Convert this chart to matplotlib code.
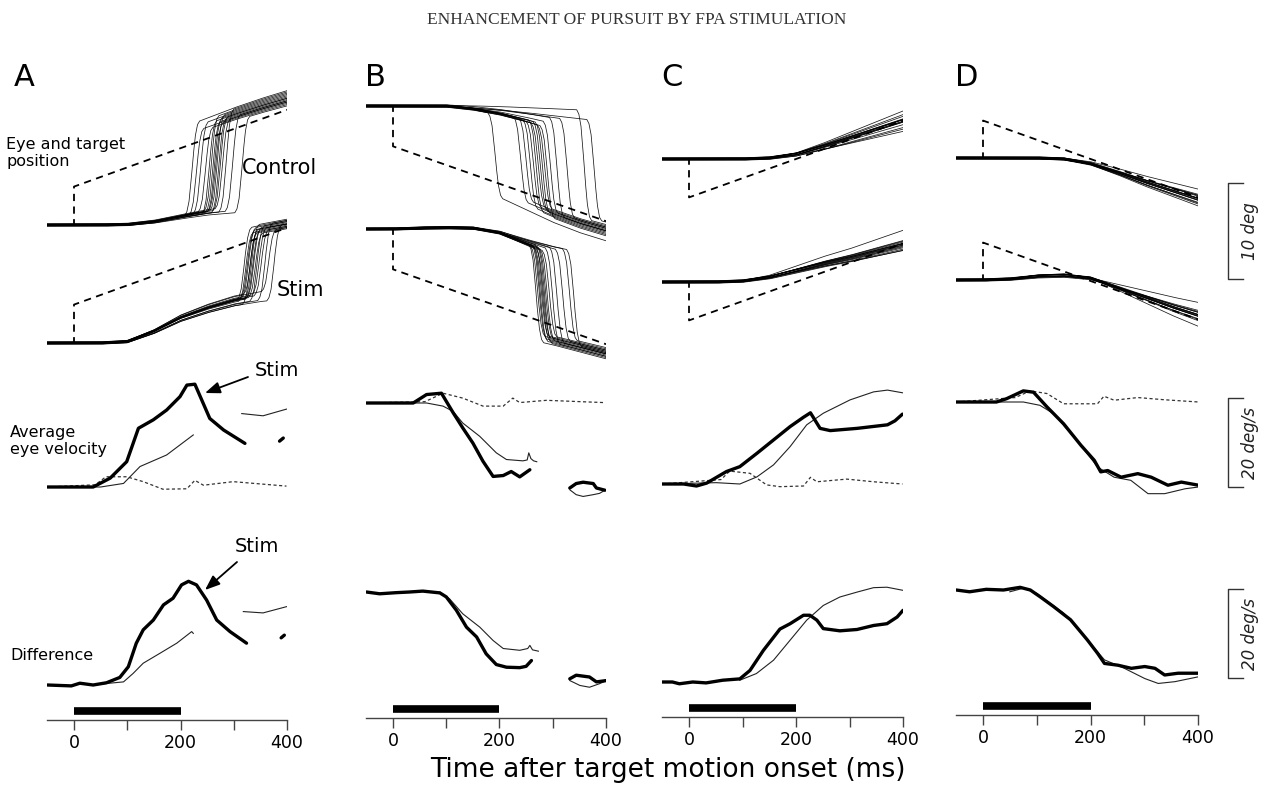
import matplotlib
matplotlib.use("Agg")
import matplotlib.pyplot as plt
import matplotlib.transforms as mtransforms
import numpy as np

plt.rcParams["font.family"] = ["DejaVu Sans"]

# ---------------------------------------------------------------------------
# Data. Times in ms, positions in deg, velocities in deg/s
# ---------------------------------------------------------------------------
panels = ["A", "B", "C", "D"]
tick_values = [0, 100, 200, 300, 400]
tick_labels = ["0", "", "200", "", "400"]
stim_window = [0, 200]

# target position (step-ramp)
target_t = [-50, 0, 0, 400]
target_A = [0, 0, 4.0, 12.0]
target_B = [0, 0, -4.2, -12.0]
target_C = [0, 0, -4.0, 4.0]
target_D = [0, 0, 3.9, -4.1]

# eye position: smooth part before / after the catch-up saccade
t_pos = [-50, 0, 50, 100, 150, 200, 250, 300, 350, 400]
t_post = [150, 200, 250, 300, 350, 400]
pre_A_ctrl = [0, 0, 0, 0.05, 0.35, 0.9, 1.4, 1.7, 1.9, 2.1]
post_A_ctrl = [8.6, 9.5, 10.5, 11.5, 12.4, 13.2]
pre_A_stim = [0, 0, 0, 0.15, 1.2, 2.6, 3.6, 4.4, 4.9, 5.2]
post_A_stim = [9.5, 10.2, 10.8, 11.3, 11.9, 12.4]
pre_B_ctrl = [0, 0, 0, 0, -0.3, -0.8, -1.5, -2.3, -3.1, -3.8]
post_B_ctrl = [-7.8, -8.8, -10.0, -11.2, -12.2, -13.0]
pre_B_stim = [0, 0, 0.1, 0.15, 0.1, -0.4, -1.5, -2.5, -3.3, -4.0]
post_B_stim = [-10.2, -10.6, -11.0, -11.6, -12.3, -13.0]
pre_C_ctrl = [0, 0, 0, 0, 0.1, 0.5, 1.3, 2.2, 3.1, 4.0]
pre_C_stim = [0, 0, 0, 0.1, 0.5, 1.2, 1.9, 2.5, 3.2, 3.9]
pre_D_ctrl = [0, 0, 0, 0, -0.1, -0.6, -1.5, -2.5, -3.4, -4.3]
pre_D_stim = [0, 0, 0.1, 0.4, 0.5, 0.2, -0.8, -1.8, -2.8, -3.7]

# saccade profile (fraction of the jump vs ms after onset)
sac_t = [0, 4, 8, 12, 16, 20, 24, 28]
sac_shape = [0, 0.04, 0.15, 0.38, 0.65, 0.86, 0.97, 1.0]

# individual trials
trial_offset = [0.0, 0.15, -0.12, 0.22, -0.2, 0.08, -0.05, 0.18,
                -0.15, 0.1, -0.25, 0.05, 0.25, -0.08, 0.12, -0.18]
onset_A_ctrl = [208, 216, 224, 233, 240, 244, 247, 250, 252, 255, 258, 261, 265, 272, 284, 302]
gain_A_ctrl = [1.0, 0.9, 1.1, 1.0, 0.95, 1.05, 1.0, 0.9, 1.1, 1.0, 0.95, 1.0, 1.05, 0.9, 0.85, 0.8]
pgain_A_ctrl = [1.06, 0.97, 1.02, 0.95, 1.0, 1.04, 0.98, 1.01, 0.96, 1.03, 0.99, 1.0, 0.97, 1.05, 0.98, 0.94]
onset_A_stim = [306, 309, 312, 314, 316, 318, 320, 322, 324, 327, 330, 334, 338, 345, 352, 362]
gain_A_stim = [1.0, 0.95, 1.05, 1.0, 0.9, 1.1, 1.0, 0.97, 1.03, 1.0, 0.95, 1.05, 1.0, 0.92, 1.08, 0.9]
pgain_A_stim = [1.03, 0.98, 1.0, 1.02, 0.97, 1.0, 1.04, 0.99, 1.01, 0.96, 1.02, 1.0, 0.98, 1.03, 0.97, 1.0]
onset_B_ctrl = [178, 226, 236, 244, 250, 255, 259, 263, 267, 271, 276, 282, 294, 313, 345, 364]
gain_B_ctrl = [1.2, 1.0, 0.9, 1.1, 1.0, 0.95, 1.05, 1.0, 0.9, 1.1, 1.0, 0.8, 0.6, 0.5, 0.15, 0.4]
pgain_B_ctrl = [1.08, 1.0, 0.97, 1.02, 0.99, 1.03, 0.98, 1.0, 1.01, 0.96, 1.04, 0.98, 1.0, 0.97, 0.95, 0.93]
onset_B_stim = [255, 258, 261, 263, 265, 267, 269, 271, 273, 276, 280, 286, 294, 305, 318, 326]
gain_B_stim = [1.0, 1.1, 0.95, 1.05, 1.0, 0.9, 1.1, 1.0, 0.95, 1.05, 1.0, 0.9, 0.85, 0.8, 0.75, 0.7]
pgain_B_stim = [1.04, 0.98, 1.0, 1.02, 0.97, 1.01, 0.99, 1.03, 0.98, 1.0, 0.96, 1.02, 1.0, 0.97, 0.95, 0.99]
gain_C_ctrl = [1.25, 0.7, 1.0, 0.95, 1.05, 1.1, 0.9, 1.0, 0.98, 1.02, 0.85, 1.15, 1.0, 0.97, 1.03, 0.8]
gain_C_stim = [1.38, 0.82, 1.0, 0.96, 1.04, 1.08, 0.92, 1.0, 0.98, 1.02, 0.88, 1.1, 1.0, 0.95, 1.05, 0.9]
gain_D_ctrl = [1.16, 0.77, 1.0, 0.95, 1.05, 1.1, 0.9, 1.0, 0.97, 1.03, 0.85, 1.12, 1.0, 0.96, 1.04, 0.88]
gain_D_stim = [1.3, 0.65, 1.0, 0.94, 1.06, 1.12, 0.9, 1.0, 0.97, 1.03, 0.82, 1.15, 1.0, 0.96, 1.04, 0.86]

# average eye velocity: stim (thick), control (thin), stim during fixation (dashed)
velA_stim_t = [-50, 0, 36, 68, 99, 121, 149, 174, 199, 212, 227, 255, 281, 321]
velA_stim = [0, 0, 0, 2.0, 5.7, 13.2, 15.1, 17.3, 20.3, 22.9, 23.1, 15.4, 12.8, 9.8]
velA_ctrl_t = [-50, 0, 50, 93, 124, 174, 224]
velA_ctrl = [0, 0, 0, 0.8, 4.6, 7.2, 11.7]
velA_dash_t = [-50, 40, 60, 99, 130, 167, 212, 227, 243, 299, 399]
velA_dash = [0, 0.5, 2.3, 2.3, 1.2, -0.5, -0.4, 1.5, 0.4, 1.2, 0.2]
velA_frag_t = [315, 355, 399]
velA_frag = [16.5, 16.0, 17.5]
velA_blob_t = [386, 393]
velA_blob = [10.3, 11.0]

velB_stim_t = [-50, 38, 63, 91, 113, 131, 150, 169, 188, 207, 222, 238, 257]
velB_stim = [0, 0, 1.9, 2.2, -2.2, -5.6, -9.0, -13.1, -16.5, -16.3, -15.4, -16.6, -15.0]
velB_ctrl_t = [-50, 63, 94, 113, 131, 163, 194, 213, 244, 252, 255, 259, 264, 270]
velB_ctrl = [0, 0, -0.7, -1.9, -4.5, -7.5, -11.2, -12.7, -13.0, -12.8, -11.2, -12.5, -13.0, -13.2]
velB_dash_t = [-50, 60, 94, 131, 169, 207, 225, 238, 288, 395]
velB_dash = [0, 0.3, 2.2, 1.1, -0.7, -0.7, 1.1, 0.1, 0.6, 0.1]
velB_blob_t = [332, 344, 357, 376, 382, 398]
velB_blob = [-19.1, -18.1, -17.8, -18.1, -19.1, -19.6]
velB_blob2_t = [332, 344, 357, 376, 388, 398]
velB_blob2 = [-19.5, -20.6, -21.0, -20.6, -20.3, -19.6]

velC_stim_t = [-50, -10, 14, 33, 70, 95, 127, 158, 189, 214, 227, 245, 264, 314, 371, 385, 399]
velC_stim = [0, 0, -0.45, 0.2, 2.8, 3.9, 6.9, 9.9, 12.9, 15.0, 16.0, 12.5, 12.0, 12.5, 13.3, 14.2, 15.7]
velC_ctrl_t = [-50, 51, 95, 127, 158, 189, 220, 251, 301, 345, 371, 399]
velC_ctrl = [0, 0.3, 0, 1.6, 4.3, 8.4, 13.3, 15.9, 18.9, 20.7, 21.1, 20.5]
velC_dash_t = [-50, 60, 76, 114, 145, 170, 214, 227, 239, 295, 345, 399]
velC_dash = [0, 1.0, 2.9, 2.4, -0.2, -0.6, -0.45, 1.5, 0.5, 1.1, 0.5, 0.0]

velD_stim_t = [-50, 25, 44, 75, 94, 119, 150, 182, 207, 219, 232, 257, 288, 313, 344, 369, 401]
velD_stim = [0, 0, 0.75, 2.5, 2.2, -1.1, -4.9, -9.7, -13.1, -15.7, -15.4, -16.9, -16.1, -16.9, -18.7, -18.0, -18.7]
velD_ctrl_t = [-50, 75, 106, 131, 182, 213, 244, 275, 307, 338, 376, 401]
velD_ctrl = [0, 0, -0.75, -2.6, -9.7, -14.6, -16.9, -17.6, -20.6, -20.6, -19.5, -19.1]
velD_dash_t = [-50, 60, 88, 119, 150, 213, 225, 244, 288, 338, 401]
velD_dash = [0, 1.0, 2.5, 1.9, -0.4, -0.4, 1.3, 0.4, 1.0, 0.5, 0.0]

# difference (stim - stim during fixation): stim (thick), control (thin)
diffA_stim_t = [-50, -5, 11, 36, 61, 86, 102, 117, 130, 149, 168, 186, 202, 215, 230, 249, 268, 293, 324]
diffA_stim = [0, -0.2, 0.4, 0, 0.5, 1.7, 4.1, 9.4, 12.4, 14.6, 18.0, 19.5, 22.5, 23.3, 22.5, 19.1, 14.6, 12.0, 9.4]
diffA_ctrl_t = [49, 93, 111, 130, 161, 193, 221, 224]
diffA_ctrl = [0.2, 0.7, 2.6, 4.9, 7.1, 9.4, 12.0, 11.6]
diffA_frag_t = [318, 355, 399]
diffA_frag = [16.5, 16.2, 17.6]
diffA_blob_t = [389, 395]
diffA_blob = [10.6, 11.2]

diffB_stim_t = [-50, -25, 6, 31, 56, 88, 100, 119, 138, 157, 175, 194, 213, 238, 250, 260]
diffB_stim = [0, -0.4, -0.15, 0, 0.2, -0.2, -1.1, -4.1, -7.9, -10.1, -13.9, -16.3, -16.9, -17.0, -16.7, -15.4]
diffB_ctrl_t = [88, 106, 131, 163, 188, 207, 238, 253, 257, 262, 273]
diffB_ctrl = [0, -1.5, -4.9, -7.9, -10.9, -12.7, -13.1, -12.7, -12.0, -13.0, -13.3]
diffB_blob_t = [332, 344, 369, 382, 401]
diffB_blob = [-19.5, -18.7, -19.1, -20.2, -19.9]
diffB_blob2_t = [332, 351, 369, 388, 401]
diffB_blob2 = [-19.9, -21.0, -21.4, -20.6, -19.9]

diffC_stim_t = [-50, -31, -18, 7, 32, 63, 95, 114, 139, 170, 189, 214, 226, 239, 251, 282, 314, 345, 370, 389, 400]
diffC_stim = [0, 0, -0.4, 0, -0.2, 0.4, 0.7, 2.6, 7.1, 11.9, 13.1, 15.0, 15.0, 13.9, 12.0, 11.5, 11.8, 12.7, 13.1, 14.6, 16.1]
diffC_ctrl_t = [95, 126, 158, 189, 220, 251, 282, 314, 345, 370, 400]
diffC_ctrl = [0.4, 1.9, 4.9, 9.4, 13.9, 17.2, 19.1, 20.2, 21.2, 21.3, 20.6]

diffD_stim_t = [-50, -25, 6, 38, 69, 88, 106, 131, 163, 194, 213, 226, 251, 276, 301, 320, 338, 363, 401]
diffD_stim = [0, -0.4, 0.15, 0, 0.6, 0, -1.5, -3.7, -6.7, -11.2, -14.2, -16.5, -16.9, -17.6, -17.2, -17.6, -19.1, -18.7, -18.7]
diffD_ctrl_t = [50, 75, 100, 150, 194, 226, 263, 301, 326, 357, 401]
diffD_ctrl = [-0.4, 0.4, -0.75, -5.2, -11.2, -15.7, -17.6, -19.9, -21.0, -20.6, -19.5]

# scale bars
pos_scale = 10   # deg
vel_scale = 20   # deg/s

# ---------------------------------------------------------------------------
# Layout (pixels of the 1270 x 787 output)
# ---------------------------------------------------------------------------
W, H = 1270, 787
col_x0 = [74, 393, 689, 983]        # pixel of t = 0
col_x400 = [287, 606, 903, 1198]    # pixel of t = 400
pos_ctrl_zero = [225, 106, 159, 158]
pos_stim_zero = [343, 229, 282, 280]
vel_zero = [487, 403, 484, 402]
diff_zero = [685, 592, 682, 590]
axis_px = [720, 718, 717, 715]
ppu_pos = 9.6    # px per deg
ppu_vel = 4.45   # px per deg/s

fig = plt.figure(figsize=(W / 100, H / 100), dpi=100, facecolor="white")

# overlay in pixel units for labels
ov = fig.add_axes([0, 0, 1, 1])
ov.set_xlim(0, W)
ov.set_ylim(H, 0)
ov.axis("off")


def col_box(col):
    ppms = (col_x400[col] - col_x0[col]) / 400.0
    left = col_x0[col] - 50 * ppms
    return left, 450 * ppms


def panel(col, zero_px, ppu, span=170):
    left, width = col_box(col)
    top, bot = zero_px - span, zero_px + span
    ax = fig.add_axes([left / W, 1 - bot / H, width / W, (bot - top) / H])
    ax.set_xlim(-50, 400)
    ax.set_ylim((zero_px - bot) / ppu, (zero_px - top) / ppu)
    ax.axis("off")
    return ax


t = np.arange(-50, 401, 1.0)


def eye_traces(pre, gains, onsets=None, post=None, post_gains=None):
    base = np.interp(t, t_pos, pre)
    out = []
    for i, g in enumerate(gains):
        y = base * g + trial_offset[i] * 0.5
        if onsets is not None:
            y2 = np.interp(t, t_post, post) * post_gains[i]
            w = np.interp(t - onsets[i], sac_t, sac_shape)
            y = y + (y2 - y) * w
        out.append(y)
    return out


def scale_bar(ax, y_top, length, label):
    # x in figure pixels, y in the panel's data units
    tr = mtransforms.blended_transform_factory(ov.transData, ax.transData)
    ax.plot([1243, 1228, 1228, 1243], [y_top, y_top, y_top - length, y_top - length],
            color="#333333", lw=1.0, transform=tr, clip_on=False)
    ax.text(1250, y_top - length / 2, label, transform=tr, rotation=90, ha="center",
            va="center", fontsize=12, style="italic", color="#222222")


targets = [target_A, target_B, target_C, target_D]
pos_ctrl = [
    eye_traces(pre_A_ctrl, gain_A_ctrl, onset_A_ctrl, post_A_ctrl, pgain_A_ctrl),
    eye_traces(pre_B_ctrl, gain_B_ctrl, onset_B_ctrl, post_B_ctrl, pgain_B_ctrl),
    eye_traces(pre_C_ctrl, gain_C_ctrl),
    eye_traces(pre_D_ctrl, gain_D_ctrl),
]
pos_stim = [
    eye_traces(pre_A_stim, gain_A_stim, onset_A_stim, post_A_stim, pgain_A_stim),
    eye_traces(pre_B_stim, gain_B_stim, onset_B_stim, post_B_stim, pgain_B_stim),
    eye_traces(pre_C_stim, gain_C_stim),
    eye_traces(pre_D_stim, gain_D_stim),
]
vel_rows = [
    [(velA_stim_t, velA_stim, "thick"), (velA_ctrl_t, velA_ctrl, "thin"), (velA_dash_t, velA_dash, "dash"),
     (velA_frag_t, velA_frag, "thin"), (velA_blob_t, velA_blob, "thick")],
    [(velB_stim_t, velB_stim, "thick"), (velB_ctrl_t, velB_ctrl, "thin"), (velB_dash_t, velB_dash, "dash"),
     (velB_blob_t, velB_blob, "thick"), (velB_blob2_t, velB_blob2, "thin")],
    [(velC_stim_t, velC_stim, "thick"), (velC_ctrl_t, velC_ctrl, "thin"), (velC_dash_t, velC_dash, "dash")],
    [(velD_stim_t, velD_stim, "thick"), (velD_ctrl_t, velD_ctrl, "thin"), (velD_dash_t, velD_dash, "dash")],
]
diff_rows = [
    [(diffA_stim_t, diffA_stim, "thick"), (diffA_ctrl_t, diffA_ctrl, "thin"),
     (diffA_frag_t, diffA_frag, "thin"), (diffA_blob_t, diffA_blob, "thick")],
    [(diffB_stim_t, diffB_stim, "thick"), (diffB_ctrl_t, diffB_ctrl, "thin"),
     (diffB_blob_t, diffB_blob, "thick"), (diffB_blob2_t, diffB_blob2, "thin")],
    [(diffC_stim_t, diffC_stim, "thick"), (diffC_ctrl_t, diffC_ctrl, "thin")],
    [(diffD_stim_t, diffD_stim, "thick"), (diffD_ctrl_t, diffD_ctrl, "thin")],
]
styles = {
    "thick": dict(color="black", lw=2.4, zorder=3, solid_joinstyle="round", solid_capstyle="round"),
    "thin": dict(color="#222222", lw=0.8, zorder=2),
    "dash": dict(color="#333333", lw=0.9, dashes=(2.5, 2.0), zorder=1),
}

for col in range(4):
    # eye and target position
    pos_axes = []
    for zero, traces in ((pos_ctrl_zero[col], pos_ctrl[col]), (pos_stim_zero[col], pos_stim[col])):
        ax = panel(col, zero, ppu_pos)
        ax.plot(target_t, targets[col], color="black", lw=1.3, dashes=(4, 3), zorder=1)
        for y in traces:
            ax.plot(t, y, color="black", lw=0.55, alpha=0.9, zorder=2)
        pos_axes.append(ax)

    # average eye velocity and difference
    vel_axes = []
    for zero, rows in ((vel_zero[col], vel_rows[col]), (diff_zero[col], diff_rows[col])):
        ax = panel(col, zero, ppu_vel)
        for tx, vy, kind in rows:
            ax.plot(tx, vy, **styles[kind])
        vel_axes.append(ax)

    # time axis with stimulation bar
    left, width = col_box(col)
    axb = fig.add_axes([left / W, 1 - axis_px[col] / H, width / W, 18 / H])
    axb.set_xlim(-50, 400)
    axb.set_ylim(0, 1)
    for s in ("top", "left", "right"):
        axb.spines[s].set_visible(False)
    axb.spines["bottom"].set_color("#444444")
    axb.spines["bottom"].set_linewidth(1.0)
    axb.patch.set_visible(False)
    axb.set_yticks([])
    axb.set_xticks(tick_values)
    axb.set_xticklabels(tick_labels, fontsize=12.5)
    axb.tick_params(axis="x", direction="out", length=7, width=1.0, color="#444444", pad=3)
    axb.plot(stim_window, [0.5, 0.5], color="black", lw=5.5, solid_capstyle="butt")

    ov.text(col_x0[col] - 60 if col == 0 else col_x0[col] - 28, 77, panels[col],
            fontsize=22, ha="left", va="center")

    # scale bars at the right of column D
    if col == 3:
        scale_bar(pos_axes[0], -2.6, pos_scale, "10 deg")
        scale_bar(vel_axes[0], 0.8, vel_scale, "20 deg/s")
        scale_bar(vel_axes[1], 0.15, vel_scale, "20 deg/s")

# labels
ov.text(637, 20, "ENHANCEMENT OF PURSUIT BY FPA STIMULATION", family="Liberation Serif",
        fontsize=12.5, ha="center", va="center", color="#333333")
ov.text(6, 153, "Eye and target\nposition", fontsize=11.5, ha="left", va="center", linespacing=1.15)
ov.text(242, 168, "Control", fontsize=15, ha="left", va="center")
ov.text(277, 290, "Stim", fontsize=15, ha="left", va="center")
ov.text(10, 441, "Average\neye velocity", fontsize=11.5, ha="left", va="center", linespacing=1.15)
ov.text(10, 655, "Difference", fontsize=11.5, ha="left", va="center")
arrow = dict(arrowstyle="-|>,head_length=0.9,head_width=0.35", color="black", lw=1.3, shrinkA=0, shrinkB=0)
ov.annotate("", xy=(205, 393), xytext=(248, 377), arrowprops=arrow)
ov.text(255, 370, "Stim", fontsize=14, ha="left", va="center")
ov.annotate("", xy=(205, 590), xytext=(237, 562), arrowprops=arrow)
ov.text(235, 547, "Stim", fontsize=14, ha="left", va="center")
ov.text(668, 770, "Time after target motion onset (ms)", fontsize=19, ha="center", va="center")

fig.savefig("out.png", dpi=100, facecolor="white")
